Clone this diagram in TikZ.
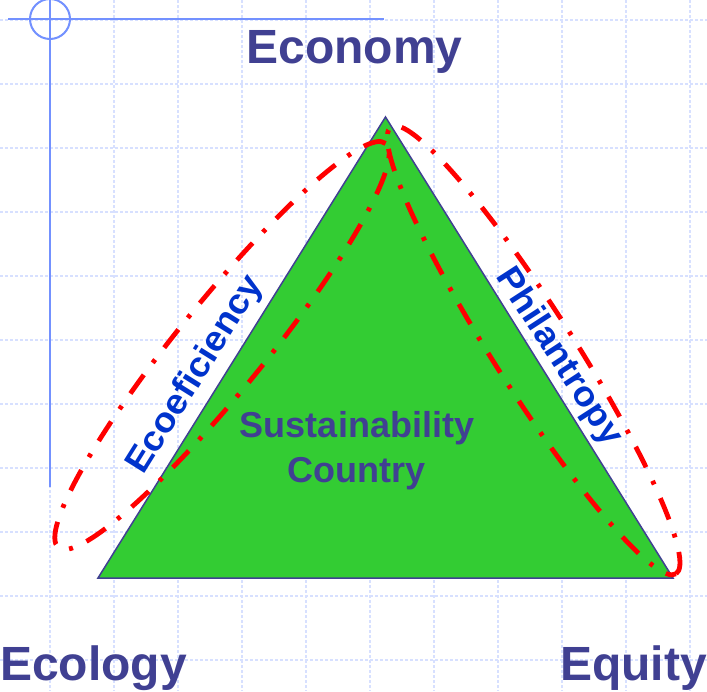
\documentclass[tikz,border=0pt]{standalone}
\usepackage{fontspec}
\setmainfont{Liberation Sans}
\definecolor{navy}{RGB}{64,64,146}
\definecolor{lblue}{RGB}{0,51,204}
\definecolor{gridc}{RGB}{215,224,255}
\definecolor{decor}{RGB}{115,145,255}
\definecolor{trigreen}{RGB}{51,204,51}
\begin{document}
\begin{tikzpicture}[x=1pt,y=-1pt,
  gridline/.style={draw=gridc,line width=1.2pt,dash pattern=on 3pt off 2pt},
  decoline/.style={draw=decor,line width=2pt},
  tri/.style={fill=trigreen,draw=navy,line width=1.5pt,line join=miter},
  loopline/.style={draw=red,line width=4.8pt,dash pattern=on 23pt off 15pt on 4pt off 15pt},
  title/.style={font=\fontsize{48}{48}\selectfont\bfseries,text=navy,inner sep=0pt},
  midtext/.style={font=\fontsize{36}{36}\selectfont\bfseries,text=navy,inner sep=0pt},
  edgelabel/.style={font=\fontsize{35}{35}\selectfont\bfseries,text=lblue,inner sep=0pt}
]
\useasboundingbox (0,0) rectangle (707,691);
\fill[white] (0,0) rectangle (707,691);
% grid
\foreach \gx in {50,114,...,690} \draw[gridline] (\gx,0) -- (\gx,691);
\foreach \gy in {20,84,...,660} \draw[gridline] (0,\gy) -- (707,\gy);
% decoration
\draw[decoline] (50,0) -- (50,487);
\draw[decoline] (8,19) -- (384,19);
\draw[decoline] (50,19) circle[radius=20pt];
% triangle
\coordinate (apex) at (385.5,117);
\coordinate (bl) at (98,578);
\coordinate (br) at (673,578);
\draw[tri] (apex) -- (bl) -- (br) -- cycle;
% labels
\node[title,anchor=base] (economy) at (354.5,63) {Economy};
\node[title,anchor=base west] (ecology) at (0,680) {Ecology};
\node[title,anchor=base east] (equity) at (707,680) {Equity};
\node[midtext,anchor=base] (sust) at (357,437) {Sustainability};
\node[midtext,anchor=base] (country) at (356.5,482) {Country};
\node[edgelabel,rotate=58] (ecoef) at (196,375) {\scalebox{1.06}[1]{Ecoeficiency}};
\node[edgelabel,rotate=-57] (phil) at (558.5,357) {\scalebox{1.06}[1]{Philantropy}};
% red loops
\draw[loopline,rotate around={51:(222,345.5)}] (222,345.5) ellipse [x radius=260pt, y radius=44pt];
\draw[loopline,rotate around={-57.5:(533.6,350.3)}] (533.6,350.3) ellipse [x radius=265pt, y radius=40pt];
\end{tikzpicture}
\end{document}
